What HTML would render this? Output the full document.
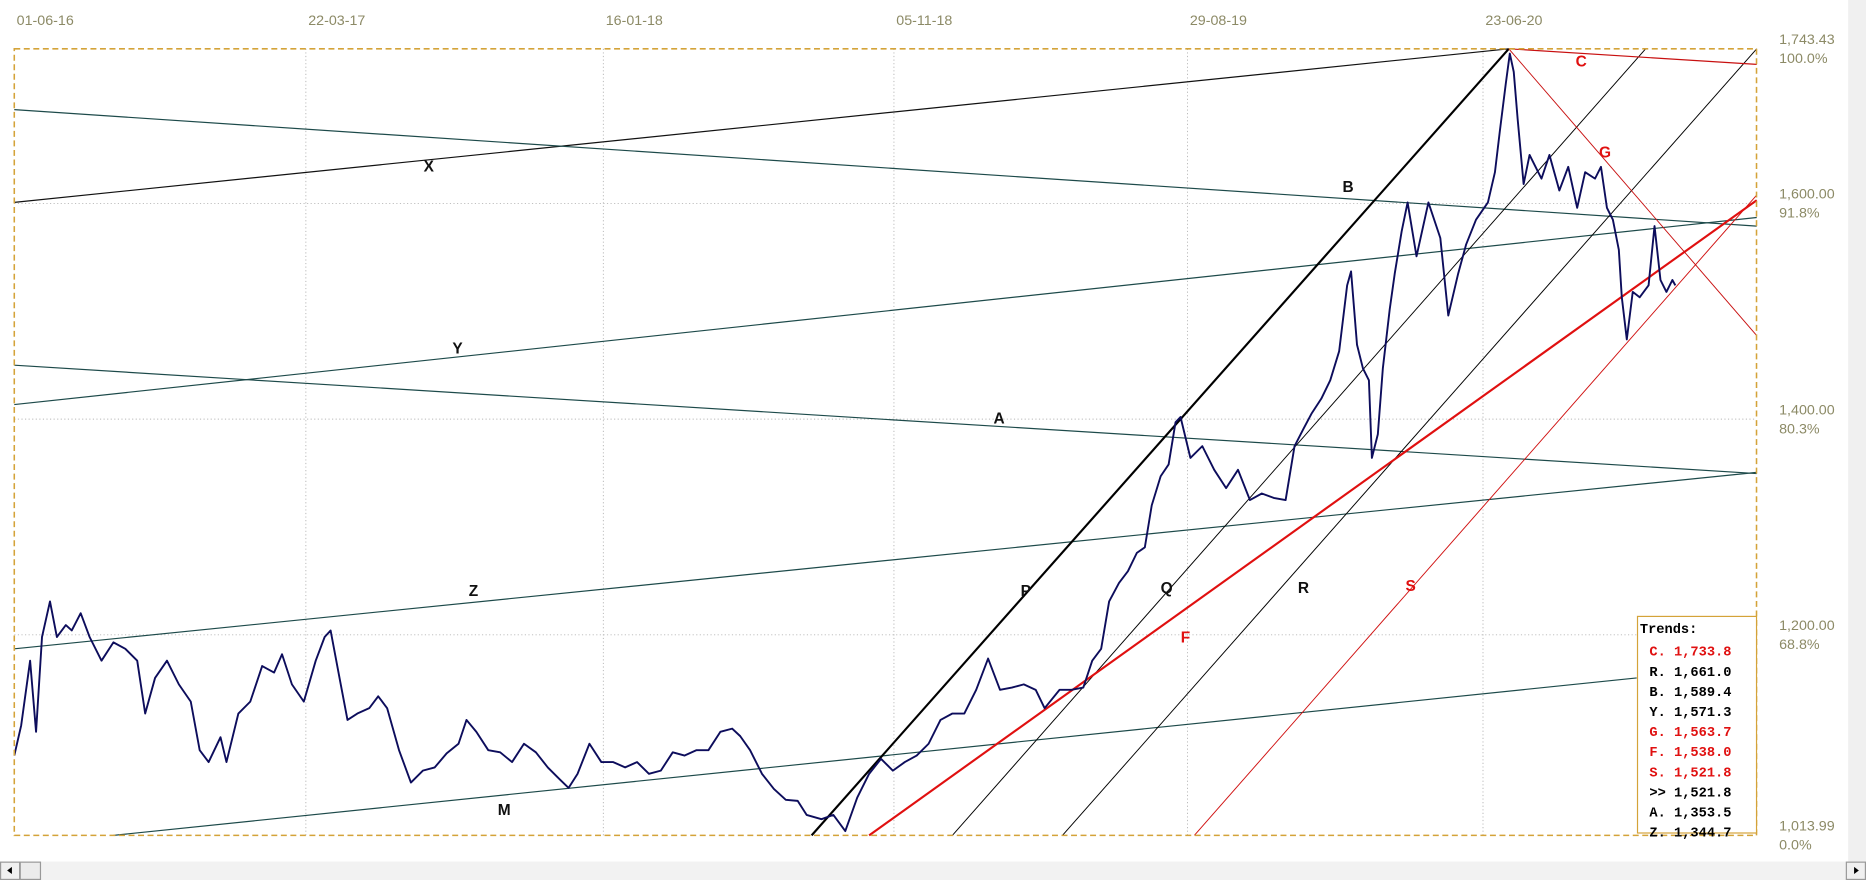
<!DOCTYPE html>
<html><head><meta charset="utf-8"><style>
html,body{margin:0;padding:0;background:#fff;width:1866px;height:880px;overflow:hidden}
svg{display:block}
.ax{font-family:"Liberation Sans",sans-serif;font-size:12px;fill:#8c8a66}
.lb{font-family:"Liberation Sans",sans-serif;font-size:13px;font-weight:bold}
.lg{font-family:"Liberation Mono",monospace;font-size:11.5px;font-weight:bold}
</style></head><body>
<svg id="chart" width="1866" height="880" viewBox="0 0 1568 739.5" preserveAspectRatio="none" xmlns="http://www.w3.org/2000/svg">
<rect x="1553" y="0" width="15" height="739.5" fill="#f0f0f0"/>
<g id="grid"></g>
<g id="axes"></g>
<g id="trends"></g>
<g id="price"></g>
<g id="labels"></g>
<rect x="12" y="41" width="1464" height="661" fill="none" stroke="#d4a339" stroke-width="1.3" stroke-dasharray="5,3"/>
<g id="legend"></g>
<g>
<rect x="0" y="724" width="1568" height="15.5" fill="#f2f2f2"/>
<rect x="0.5" y="724.5" width="16" height="14.5" fill="#f0f0f0" stroke="#999"/>
<polygon points="6,731.5 10,728.5 10,734.5" fill="#000"/>
<rect x="17" y="724.5" width="17" height="14.5" fill="#ececec" stroke="#999"/>
<rect x="1551.5" y="724.5" width="16" height="14.5" fill="#f0f0f0" stroke="#999"/>
<polygon points="1562,731.5 1558,728.5 1558,734.5" fill="#000"/>
</g>
</svg>
<script>
// x domain: days since 01-06-16; y domain: price
const priceDays = [0,7,16,22,28,36,43,52,58,67,76,88,100,112,124,132,142,154,166,178,187,196,208,214,226,238,250,262,270,280,292,304,313,319,328,336,346,358,367,376,388,400,412,424,436,448,456,466,478,490,502,514,526,538,550,559,568,580,592,604,616,628,640,652,664,676,688,700,712,724,732,742,754,766,778,790,799,814,826,838,850,862,874,886,898,910,922,934,946,958,970,982,994,1006,1018,1030,1039,1054,1066,1078,1087,1096,1104,1114,1123,1132,1140,1147,1156,1164,1171,1176,1186,1198,1210,1222,1234,1246,1258,1270,1282,1291,1300,1308,1318,1327,1336,1344,1348,1354,1360,1366,1369,1375,1380,1387,1392,1399,1405,1414,1426,1438,1446,1456,1464,1474,1486,1493,1498,1504,1508,1512,1516,1522,1528,1534,1540,1548,1558,1567,1576,1584,1594,1600,1606,1612,1618,1621,1626,1632,1639,1648,1654,1660,1666,1672,1675];
const priceValues = [1088,1116,1176,1110,1198,1231,1198,1209,1204,1220,1198,1176,1193,1187,1176,1127,1160,1176,1154,1138,1093,1082,1105,1082,1127,1138,1171,1165,1182,1154,1138,1176,1198,1204,1160,1121,1127,1132,1143,1132,1093,1063,1074,1077,1090,1099,1121,1110,1093,1091,1082,1099,1091,1077,1066,1058,1071,1099,1082,1082,1077,1082,1071,1074,1091,1088,1093,1093,1110,1113,1106,1093,1071,1057,1047,1046,1033,1029,1033,1018,1049,1071,1085,1074,1082,1088,1099,1121,1127,1127,1149,1178,1149,1151,1154,1149,1132,1149,1149,1151,1176,1187,1231,1248,1259,1276,1281,1320,1347,1358,1397,1402,1364,1375,1353,1336,1353,1325,1331,1327,1325,1375,1391,1405,1419,1436,1463,1524,1537,1469,1447,1436,1364,1386,1447,1502,1535,1574,1601,1551,1601,1568,1496,1535,1562,1585,1601,1629,1667,1711,1739,1722,1678,1618,1645,1634,1623,1645,1612,1634,1596,1629,1623,1634,1596,1585,1557,1513,1474,1518,1513,1524,1579,1529,1518,1529,1524];
const trendNames = ["X","B","Y","A","Z","M","P","Q","R","S","F","C","G"];
const trendStart = [[0,1601],[0,1687],[0,1413.5],[0,1450],[0,1187],[100,1014],[804,1014],[946,1014],[1057,1014],[1190,1014],[862,1014],[1507,1743.4],[1507,1743.4]];
const trendEnd = [[1507,1743.4],[1757,1579],[1757,1587],[1757,1349.5],[1757,1350.6],[1636,1160],[1507,1743.4],[1645,1743.4],[1757,1743.4],[1757,1607.8],[1757,1603],[1757,1729],[1757,1477.5]];
const labelPos = [[418,1634],[1345,1615],[447,1465],[993,1400],[463,1240],[494,1037],[1020,1240],[1162,1243],[1300,1243],[1408,1245],[1181,1197],[1580,1731],[1604,1647]];
const dateTicks = [0,294,594,887,1183,1481];
const dateLabels = ["01-06-16","22-03-17","16-01-18","05-11-18","29-08-19","23-06-20"];
const priceTicks = [1743.43,1600,1400,1200,1013.99];
const priceTickLabels = ["1,743.43","1,600.00","1,400.00","1,200.00","1,013.99"];
const pctLabels = ["100.0%","91.8%","80.3%","68.8%","0.0%"];
const legendKeys = ["C.","R.","B.","Y.","G.","F.","S.",">>","A.","Z."];
const legendValues = ["1,733.8","1,661.0","1,589.4","1,571.3","1,563.7","1,538.0","1,521.8","1,521.8","1,353.5","1,344.7"];
const legendRed = [true,false,false,false,true,true,true,false,false,false];

const NS="http://www.w3.org/2000/svg";
const X0=12,X1=1476,Y0=41,Y1=702,PMAX=1743.43,PMIN=1013.99;
function xs(d){return X0+d/1.2;}
function ys(p){return Y0+(PMAX-p)/(PMAX-PMIN)*(Y1-Y0);}
function mk(tag,parent,attrs){const e=document.createElementNS(NS,tag);for(const k in attrs)e.setAttribute(k,attrs[k]);parent.appendChild(e);return e;}
const grid=document.getElementById('grid'),axes=document.getElementById('axes');
dateTicks.forEach((d,i)=>{
  if(i>0){const g=mk('line',grid,{x1:xs(d),x2:xs(d),y1:Y0,y2:Y1,stroke:'#b8b8b8','stroke-width':0.8,'stroke-dasharray':'1,2'});
  
  }
  const t=mk('text',axes,{x:xs(d)+2,y:21,class:'ax'});t.textContent=dateLabels[i];
  
  
});
priceTicks.forEach((p,i)=>{
  if(i>0&&i<priceTicks.length-1){const g=mk('line',grid,{x1:X0,x2:X1,y1:ys(p),y2:ys(p),stroke:'#b8b8b8','stroke-width':0.8,'stroke-dasharray':'1,2'});
  
  }
  const t=mk('text',axes,{x:1495,y:ys(p)-4,class:'ax'});t.textContent=priceTickLabels[i];
  
  
  const q=mk('text',axes,{x:1495,y:ys(p)+12,class:'ax'});q.textContent=pctLabels[i];
  
  
});
const styles={X:['#111',1],B:['#1d4a4a',1],Y:['#1d4a4a',1],A:['#1d4a4a',1],Z:['#1d4a4a',1],M:['#1d4a4a',1],P:['#000',1.8],Q:['#000',0.8],R:['#000',0.8],S:['#d01010',0.8],F:['#e01010',1.8],C:['#c81010',1],G:['#c81010',0.8]};
const tg=document.getElementById('trends'),lg=document.getElementById('labels');
trendNames.forEach((n,i)=>{
  const s=styles[n];
  const l=mk('line',tg,{x1:xs(trendStart[i][0]),y1:ys(trendStart[i][1]),x2:xs(trendEnd[i][0]),y2:ys(trendEnd[i][1]),stroke:s[0],'stroke-width':s[1]});
  
  
  const red=['S','F','C','G'].includes(n);
  const t=mk('text',lg,{x:xs(labelPos[i][0]),y:ys(labelPos[i][1]),class:'lb','text-anchor':'middle','dominant-baseline':'central',fill:red?'#e01010':'#111','font-weight':red?'normal':'bold'});
  t.textContent=n;
  
  
});
const pts=priceDays.map((d,i)=>xs(d).toFixed(1)+','+ys(priceValues[i]).toFixed(1)).join(' ');
const pl=mk('polyline',document.getElementById('price'),{points:pts,fill:'none',stroke:'#0d0d5c','stroke-width':1.6,'stroke-linejoin':'round'});


const leg=document.getElementById('legend');
const box=mk('rect',leg,{x:1376,y:518,width:100,height:182,fill:'#fff',stroke:'#d4a339','stroke-width':1});


const ttl=mk('text',leg,{x:1378,y:532,class:'lg',fill:'#000'});ttl.textContent='Trends:';


legendKeys.forEach((k,i)=>{
  const t=mk('text',leg,{x:1386,y:551+i*16.9,class:'lg',fill:legendRed[i]?'#e01010':'#000','xml:space':'preserve'});
  t.textContent=k+' '+legendValues[i];
  
  
});
</script>
</body></html>
